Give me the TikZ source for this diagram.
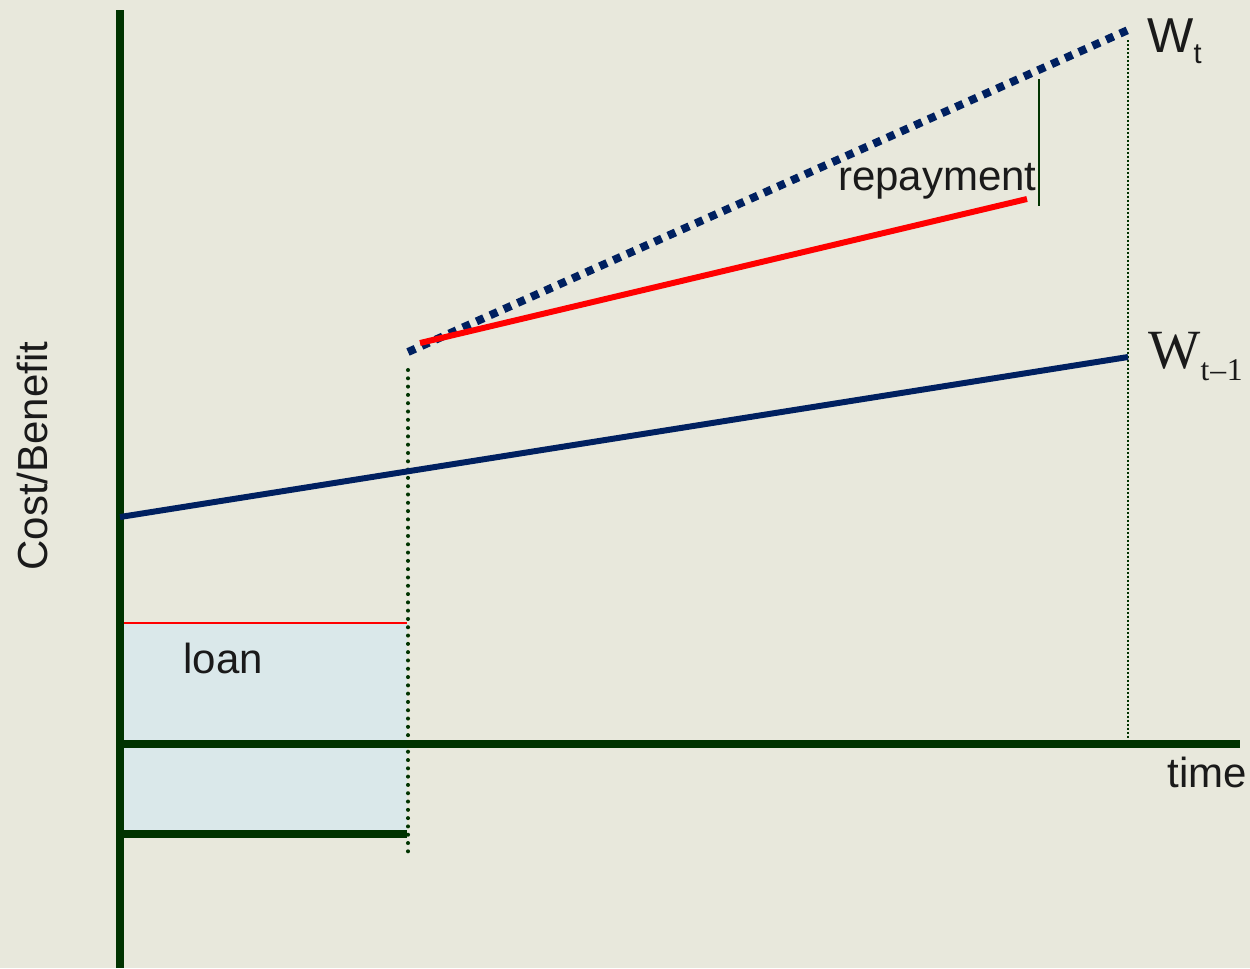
\documentclass[tikz,border=0pt]{standalone}
\usepackage{fontspec}
\setmainfont{Liberation Sans}
\newfontfamily\seriffont{Liberation Serif}
\definecolor{bg}{RGB}{232,232,220}
\definecolor{axisgreen}{RGB}{0,51,0}
\definecolor{navy}{RGB}{0,32,96}
\definecolor{loanblue}{RGB}{218,232,234}
\definecolor{txt}{RGB}{26,26,26}
\begin{document}
\begin{tikzpicture}[x=0.02cm,y=-0.02cm,
  axisline/.style={draw=axisgreen,line width=4.55pt},
  guide/.style={draw=axisgreen,line width=2.3pt,line cap=round,dash pattern=on 0pt off 0.166cm},
  fineguide/.style={draw=axisgreen,line width=1.2pt,dash pattern=on 0.04cm off 0.04cm},
  wline/.style={draw=navy,line width=3.4pt},
  wdotted/.style={draw=navy,line width=4.55pt,dash pattern=on 0.16cm off 0.14cm},
  redline/.style={draw=red,line width=3.4pt},
  lbl/.style={inner sep=0pt,text=txt,font=\fontsize{23.9}{28}\selectfont}
]
\fill[bg] (0,0) rectangle (1250,968);
\useasboundingbox (0,0) rectangle (1250,968);
% coordinates
\coordinate (ytop) at (120,10);
\coordinate (ybot) at (120,968);
\coordinate (xl) at (116,744);
\coordinate (xr) at (1240,744);
\coordinate (loanTL) at (120,623);
\coordinate (loanTR) at (407,623);
\coordinate (loanBL) at (120,834);
\coordinate (loanBR) at (407,834);
\coordinate (g1top) at (408,370);
\coordinate (g1bot) at (408,852);
\coordinate (g2top) at (1128,40);
\coordinate (g2bot) at (1128,740);
\coordinate (w1a) at (120,517);
\coordinate (w1b) at (1128,357);
\coordinate (wta) at (408,352);
\coordinate (wtb) at (1128,30);
\coordinate (ra) at (420,343);
\coordinate (rb) at (1027,199);
\coordinate (rpt) at (1039,79);
\coordinate (rpb) at (1039,206);
% loan area
\fill[loanblue] (loanTL) rectangle (loanBR);
\draw[red,line width=1.2pt] (loanTL) -- (loanTR);
% guides
\draw[guide] (g1top) -- (g1bot);
\draw[fineguide] (g2top) -- (g2bot);
% axes
\draw[axisline] (ytop) -- (ybot);
\draw[axisline] (xl) -- (xr);
\draw[axisline] (loanBL) -- (loanBR);
% lines
\draw[wline] (w1a) -- (w1b);
\draw[wdotted] (wta) -- (wtb);
\draw[redline] (ra) -- (rb);
\draw[axisgreen,line width=1pt] (rpt) -- (rpb);
% labels
\node[lbl,anchor=base east] (rep) at (1037,190) {repayment};
\node[lbl,anchor=base west] (loan) at (183,673) {loan};
\node[lbl,anchor=base west] (time) at (1167,787) {time};
\node[lbl,anchor=base,rotate=90] (cb) at (47,456) {Cost/Benefit};
\node[inner sep=0pt,text=txt,anchor=base west,font=\fontsize{27.9}{30}\selectfont] (wt) at (1147,52) {W\raisebox{-0.22cm}{\fontsize{16.5}{18}\selectfont t}};
\node[inner sep=0pt,text=txt,anchor=base west,font=\seriffont\fontsize{31.5}{34}\selectfont] (wt1) at (1148,368) {W\raisebox{-0.24cm}{\fontsize{18}{20}\selectfont t\kern0.5pt{}–\kern0.5pt{}1}};
\end{tikzpicture}
\end{document}
